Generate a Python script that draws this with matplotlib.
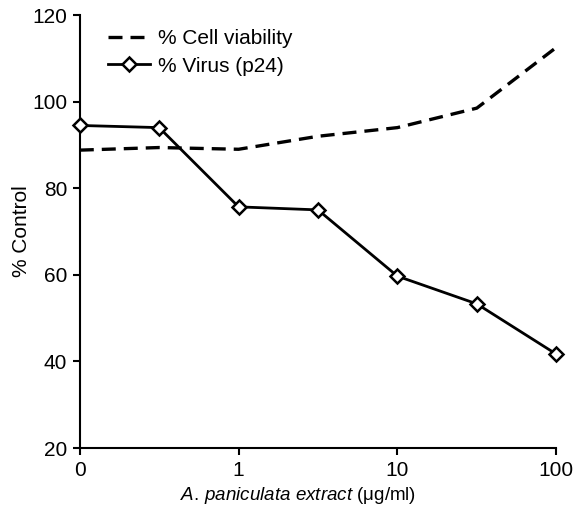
import numpy as np
import matplotlib
matplotlib.use("Agg")
import matplotlib.pyplot as plt

plt.rcParams['font.family'] = ['Liberation Sans', 'DejaVu Sans']
plt.rcParams['mathtext.fontset'] = 'custom'
plt.rcParams['mathtext.rm'] = 'Liberation Sans'
plt.rcParams['mathtext.it'] = 'Liberation Sans:italic'

# concentraciones (escala logarítmica, posiciones equiespaciadas)
dosis = [0, 0.32, 1, 3.2, 10, 32, 100]
viabilidad = [88.8, 89.4, 89.0, 92.0, 94.0, 98.5, 112.5]
virus = [94.5, 94.0, 75.7, 75.0, 59.7, 53.3, 41.7]
ticks_x = ['0', '1', '10', '100']

pos = np.arange(len(dosis))

fig = plt.figure(figsize=(5.74, 5.18), dpi=100)
ax = fig.add_axes([0.139, 0.135, 0.830, 0.836])

ax.plot(pos, viabilidad, color='black', lw=2.4, dashes=(4.2, 2.4),
        label='% Cell viability', clip_on=False)
ax.plot(pos, virus, color='black', lw=2.0, marker='D', markersize=7,
        markerfacecolor='white', markeredgewidth=1.8, label='% Virus (p24)',
        clip_on=False, zorder=3)

ax.set_xlim(0, 6)
ax.set_ylim(20, 120)
ax.set_xticks([0, 2, 4, 6])
ax.set_xticklabels(ticks_x)
ax.set_yticks([20, 40, 60, 80, 100, 120])

for s in ['top', 'right']:
    ax.spines[s].set_visible(False)
for s in ['left', 'bottom']:
    ax.spines[s].set_linewidth(1.5)
ax.tick_params(direction='out', length=5, width=1.5, labelsize=15, pad=4)

ax.set_ylabel('% Control', fontsize=15)
ax.yaxis.set_label_coords(-0.103, 0.5)
ax.set_xlabel(r'$\it{A.\,paniculata\ extract}$ (μg/ml)', fontsize=13.5)
ax.xaxis.set_label_coords(0.458, -0.085)

ax.legend(loc='upper left', bbox_to_anchor=(0.02, 1.01), frameon=False,
          fontsize=15, handlelength=2.0, handletextpad=0.4, labelspacing=0.4)

plt.savefig('out.png', dpi=100)
